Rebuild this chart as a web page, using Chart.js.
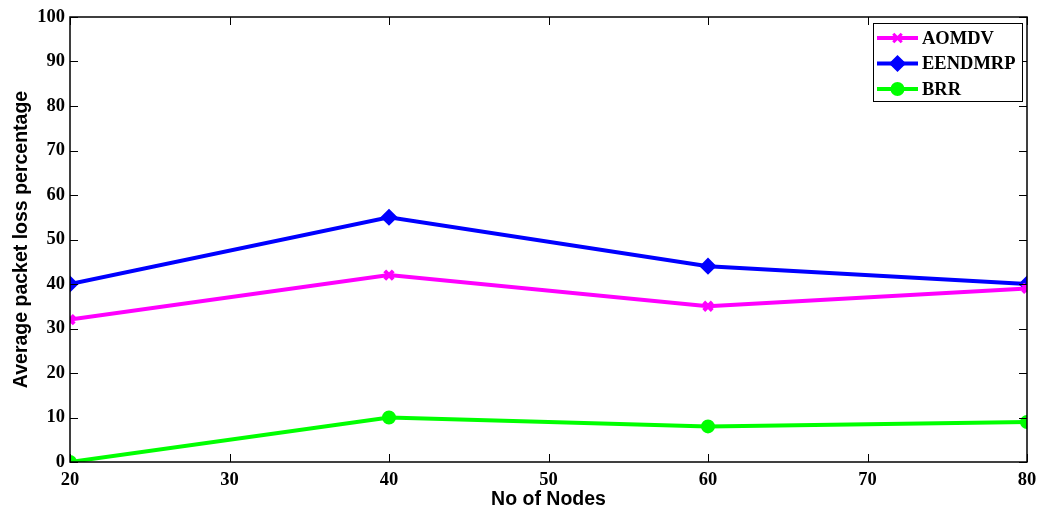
<!DOCTYPE html>
<html>
<head>
<meta charset="utf-8">
<script src="https://cdn.jsdelivr.net/npm/chart.js@4.4.1/dist/chart.umd.min.js"></script>
<style>
  html, body { margin: 0; padding: 0; background: #fff; }
  #wrap { width: 1037px; height: 509px; }
</style>
</head>
<body>
<div id="wrap"><canvas id="lossChart" width="1037" height="509"></canvas></div>
<script>
const nodes = [20, 40, 60, 80];
const aomdv = [32, 42, 35, 39];
const eendmrp = [40, 55, 44, 40];
const brr = [0, 10, 8, 9];
const xTicks = [20, 30, 40, 50, 60, 70, 80];
const yTicks = [0, 10, 20, 30, 40, 50, 60, 70, 80, 90, 100];

const serif = "'Liberation Serif', 'Times New Roman', serif";
const sans = "'Liberation Sans', Arial, sans-serif";

function pts(ys) { return nodes.map((x, i) => ({ x: x, y: ys[i] })); }

// box, inward ticks and legend in matlab style
const matlabFrame = {
  id: 'matlabFrame',
  afterDraw(chart) {
    const { ctx, chartArea: a, scales } = chart;
    ctx.save();
    ctx.strokeStyle = '#000';
    ctx.lineWidth = 1.5;
    ctx.strokeRect(a.left, a.top, a.right - a.left, a.bottom - a.top);
    ctx.lineWidth = 1;
    const t = 8;
    xTicks.forEach(v => {
      const px = Math.round(scales.x.getPixelForValue(v)) + 0.5;
      ctx.beginPath();
      ctx.moveTo(px, a.bottom); ctx.lineTo(px, a.bottom - t);
      ctx.moveTo(px, a.top); ctx.lineTo(px, a.top + t);
      ctx.stroke();
    });
    yTicks.forEach(v => {
      const py = Math.round(scales.y.getPixelForValue(v)) + 0.5;
      ctx.beginPath();
      ctx.moveTo(a.left, py); ctx.lineTo(a.left + t, py);
      ctx.moveTo(a.right, py); ctx.lineTo(a.right - t, py);
      ctx.stroke();
    });

    // legend
    const bx = 873, by = 23, bw = 149, bh = 78;
    ctx.fillStyle = '#fff';
    ctx.fillRect(bx, by, bw, bh);
    ctx.strokeStyle = '#000';
    ctx.lineWidth = 1;
    ctx.strokeRect(bx + 0.5, by + 0.5, bw, bh);
    chart.data.datasets.forEach((ds, i) => {
      const ly = by + 15 + i * 25.5;
      ctx.strokeStyle = ds.borderColor;
      ctx.fillStyle = ds.borderColor;
      ctx.lineWidth = 4;
      ctx.beginPath();
      ctx.moveTo(bx + 4, ly); ctx.lineTo(bx + 45, ly);
      ctx.stroke();
      ctx.lineWidth = 3;
      Chart.helpers.drawPoint(ctx, {
        pointStyle: ds.pointStyle, radius: ds.pointRadius,
        borderWidth: 3, rotation: 0
      }, bx + 24.5, ly);
      ctx.fillStyle = '#000';
      ctx.font = 'bold 18.5px ' + serif;
      ctx.textBaseline = 'middle';
      ctx.textAlign = 'left';
      ctx.fillText(ds.label, bx + 49, ly + 1);
    });
    ctx.restore();
  }
};

function series(label, color, ys, style, r, bw) {
  return {
    label: label, data: pts(ys), borderColor: color, backgroundColor: color,
    borderWidth: 4, pointStyle: style, pointRadius: r, pointBorderWidth: bw,
    pointBackgroundColor: color, pointBorderColor: color, tension: 0
  };
}

new Chart(document.getElementById('lossChart'), {
  type: 'line',
  data: {
    datasets: [
      series('AOMDV', '#ff00ff', aomdv, 'crossRot', 6, 4),
      series('EENDMRP', '#0000ff', eendmrp, 'rectRot', 6.5, 3),
      series('BRR', '#00ff00', brr, 'circle', 5.5, 3)
    ]
  },
  options: {
    responsive: false,
    animation: false,
    layout: { padding: { top: 17, right: 0, left: 0, bottom: 0 } },
    plugins: { legend: { display: false }, tooltip: { enabled: false } },
    scales: {
      x: {
        type: 'linear', min: 20, max: 80,
        afterFit(s) { s.height = 47; s.paddingRight = 7; s.paddingLeft = 0; },
        afterBuildTicks(s) { s.ticks = xTicks.map(v => ({ value: v })); },
        grid: { display: false, drawTicks: false },
        border: { display: false },
        ticks: { color: '#000', padding: 7, font: { family: serif, size: 18.5, weight: 'bold' } },
        title: { display: true, text: 'No of Nodes', color: '#000', padding: { top: 0, bottom: -2 },
          font: { family: sans, size: 19.5, weight: 'bold' } }
      },
      y: {
        min: 0, max: 100,
        afterFit(s) { s.width = 70; },
        afterBuildTicks(s) { s.ticks = yTicks.map(v => ({ value: v })); },
        grid: { display: false, drawTicks: false },
        border: { display: false },
        ticks: { color: '#000', padding: 5, font: { family: serif, size: 18.5, weight: 'bold' } },
        title: { display: true, text: 'Average packet loss percentage', color: '#000', padding: { top: 10, bottom: 0 },
          font: { family: sans, size: 19.5, weight: 'bold' } }
      }
    }
  },
  plugins: [matlabFrame]
});
</script>
</body>
</html>
